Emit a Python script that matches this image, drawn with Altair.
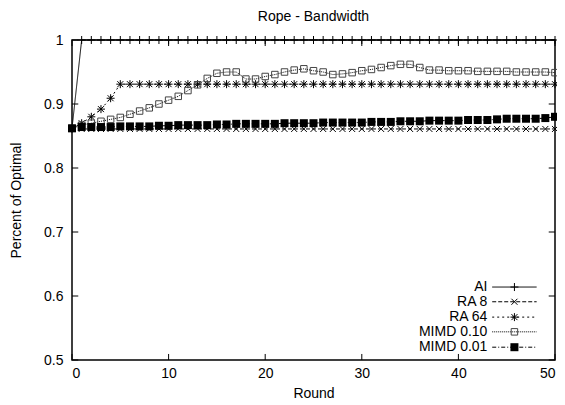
import altair as alt
import pandas as pd

rounds = list(range(51))
ai = [0.862] + [1.0] * 50
ra8 = [0.862] + [0.861] * 50
ra64 = [0.862, 0.870, 0.880, 0.892, 0.909, 0.931] + [0.931] * 45
mimd10 = [0.862, 0.867, 0.870, 0.873, 0.876, 0.879, 0.884, 0.889, 0.894, 0.900,
          0.906, 0.912, 0.921, 0.930, 0.940, 0.948, 0.950, 0.950, 0.939, 0.939,
          0.943, 0.946, 0.950, 0.953, 0.955, 0.952, 0.950, 0.946, 0.947, 0.949,
          0.952, 0.954, 0.957, 0.960, 0.962, 0.962, 0.957, 0.953, 0.953, 0.952,
          0.952, 0.952, 0.951, 0.951, 0.951, 0.951, 0.950, 0.950, 0.950, 0.950,
          0.949]
mimd01 = [0.862, 0.864, 0.864, 0.864, 0.864, 0.865, 0.865, 0.865, 0.865, 0.866,
          0.866, 0.867, 0.867, 0.867, 0.867, 0.868, 0.868, 0.869, 0.869, 0.869,
          0.869, 0.869, 0.870, 0.870, 0.870, 0.870, 0.871, 0.871, 0.871, 0.871,
          0.871, 0.872, 0.872, 0.872, 0.873, 0.873, 0.873, 0.874, 0.874, 0.874,
          0.874, 0.875, 0.875, 0.875, 0.876, 0.877, 0.877, 0.877, 0.877, 0.878,
          0.880]

series_names = ["AI", "RA 8", "RA 64", "MIMD 0.10", "MIMD 0.01"]
series_values = [ai, ra8, ra64, mimd10, mimd01]

x_ticks = [0, 10, 20, 30, 40, 50]
y_ticks = [0.5, 0.6, 0.7, 0.8, 0.9, 1.0]

title_text = "Rope - Bandwidth"

# legend layout (in data units)
legend_rows_y = [0.614, 0.591, 0.567, 0.544, 0.520]
legend_text_x = 43.0
legend_line_x = [43.5, 48.1]
legend_sym_x = 45.8

FONT = "Liberation Sans"
FS = 14
PLUS = "M-1,0L1,0M0,-1L0,1"
CROSS = "M-0.75,-0.75L0.75,0.75M-0.75,0.75L0.75,-0.75"
STAR = "M-1,0L1,0M0,-1L0,1M-0.75,-0.75L0.75,0.75M-0.75,0.75L0.75,-0.75"

styles = {
    "AI": dict(dash=[1, 0], shape=PLUS, filled=False, size=64, mcolor="black"),
    "RA 8": dict(dash=[4, 2], shape=CROSS, filled=False, size=64, mcolor="black"),
    "RA 64": dict(dash=[2, 3], shape=STAR, filled=False, size=64, mcolor="black"),
    "MIMD 0.10": dict(dash=[1, 1], shape="square", filled=False, size=42, mcolor="#444444"),
    "MIMD 0.01": dict(dash=[4, 2, 1, 2], shape="square", filled=True, size=64, mcolor="black"),
}

xs = alt.Scale(domain=[0, 50], nice=False, zero=False)
ys = alt.Scale(domain=[0.5, 1.0], nice=False, zero=False)

x_axis = alt.Axis(values=x_ticks, tickSize=0, domain=False, grid=False,
                  labelFont=FONT, labelFontSize=FS, labelPadding=6, labelColor="black",
                  title="Round", titleFont=FONT, titleFontSize=FS, titleFontWeight="normal",
                  titleX=241.5, titleY=33, titleBaseline="middle", titleColor="black")
y_axis = alt.Axis(values=y_ticks, format="~g", tickSize=0, domain=False, grid=False,
                  labelFont=FONT, labelFontSize=FS, labelPadding=9, labelColor="black",
                  title="Percent of Optimal", titleFont=FONT, titleFontSize=FS,
                  titleFontWeight="normal", titleX=-56, titleY=160, titleAngle=-90,
                  titleAlign="center", titleBaseline="middle", titleColor="black")

layers = []

# tick marks (gnuplot style, inward on all four sides)
ytick_df = pd.DataFrame({"y": y_ticks})
xtick_df = pd.DataFrame({"x": x_ticks})
layers.append(alt.Chart(ytick_df).mark_rule(color="black", strokeWidth=1).encode(
    y=alt.Y("y:Q", scale=ys, axis=y_axis), x=alt.datum(0, scale=xs, axis=x_axis), x2=alt.datum(0.65)))
layers.append(alt.Chart(ytick_df).mark_rule(color="black", strokeWidth=1).encode(
    y=alt.Y("y:Q", scale=ys), x=alt.datum(49.35, scale=xs), x2=alt.datum(50)))
layers.append(alt.Chart(xtick_df).mark_rule(color="black", strokeWidth=1).encode(
    x=alt.X("x:Q", scale=xs), y=alt.datum(0.5, scale=ys), y2=alt.datum(0.5094)))
layers.append(alt.Chart(xtick_df).mark_rule(color="black", strokeWidth=1).encode(
    x=alt.X("x:Q", scale=xs), y=alt.datum(0.9906, scale=ys), y2=alt.datum(1.0)))

for name, vals in zip(series_names, series_values):
    st = styles[name]
    df = pd.DataFrame({"x": rounds, "y": vals})
    base = alt.Chart(df).encode(x=alt.X("x:Q", scale=xs), y=alt.Y("y:Q", scale=ys))
    layers.append(base.mark_line(color="black", strokeWidth=1, strokeDash=st["dash"], clip=False))
    layers.append(base.mark_point(shape=st["shape"], filled=st["filled"], size=st["size"],
                                  color=st["mcolor"], strokeWidth=1, opacity=1, clip=False))

# legend
for name, ly in zip(series_names, legend_rows_y):
    st = styles[name]
    tdf = pd.DataFrame({"x": [legend_text_x], "y": [ly], "label": [name]})
    layers.append(alt.Chart(tdf).mark_text(align="right", baseline="middle", font=FONT,
                                           fontSize=FS, color="black").encode(
        x=alt.X("x:Q", scale=xs), y=alt.Y("y:Q", scale=ys), text="label:N"))
    ldf = pd.DataFrame({"x": legend_line_x, "y": [ly, ly]})
    layers.append(alt.Chart(ldf).mark_line(color="black", strokeWidth=1, strokeDash=st["dash"]).encode(
        x=alt.X("x:Q", scale=xs), y=alt.Y("y:Q", scale=ys)))
    sdf = pd.DataFrame({"x": [legend_sym_x], "y": [ly]})
    layers.append(alt.Chart(sdf).mark_point(shape=st["shape"], filled=st["filled"], size=st["size"],
                                            color=st["mcolor"], strokeWidth=1, opacity=1).encode(
        x=alt.X("x:Q", scale=xs), y=alt.Y("y:Q", scale=ys)))

# chart title as text above the plot
title_df = pd.DataFrame({"t": [title_text]})
layers.append(alt.Chart(title_df).mark_text(align="center", baseline="middle", font=FONT,
                                            fontSize=FS, color="black").encode(
    x=alt.value(241.5), y=alt.value(-23), text="t:N"))

chart = alt.layer(*layers).properties(
    width=483, height=320,
    padding={"left": 64, "top": 32, "right": 2, "bottom": 45},
    autosize=alt.AutoSizeParams(type="none"),
).configure_view(stroke="black", strokeWidth=1.5)

chart.save("out.html", embed_options={"renderer": "svg", "actions": False})
